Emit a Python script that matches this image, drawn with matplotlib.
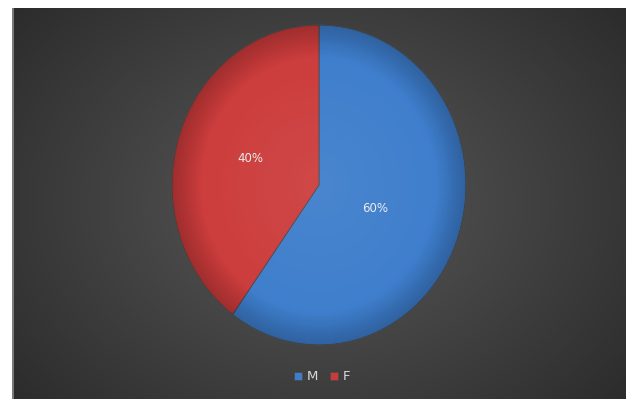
import numpy as np
import matplotlib
matplotlib.use("Agg")
import matplotlib.pyplot as plt

categories = ["M", "F"]
values = [60, 40]
colors = ["#3d7dcc", "#cc3b3b"]

W, H = 628, 399
fig = plt.figure(figsize=(W / 100, H / 100), dpi=100)
fig.patch.set_facecolor("white")

# background panel with radial gradient
bx0, bx1, by0, by1 = 12, 626, 8, 399
bg = fig.add_axes([bx0 / W, 1 - by1 / H, (bx1 - bx0) / W, (by1 - by0) / H])
yy, xx = np.mgrid[0:1:300j, 0:1:400j]
r = np.sqrt(((xx - 0.5) / 0.62) ** 2 + ((yy - 0.5) / 0.75) ** 2)
g = np.clip(0.35 - 0.17 * r, 0.16, 0.35)
bg.imshow(np.dstack([g, g, g]), aspect="auto", extent=(0, 1, 0, 1))
bg.axvline(0.001, color="#8a8a8a", lw=1.2)
bg.set_axis_off()

# pie axes (ellipse: stretched in y)
px0, px1, py0, py1 = 172, 466, 25, 345
ax = fig.add_axes([px0 / W, 1 - py1 / H, (px1 - px0) / W, (py1 - py0) / H])
wedges, texts, autotexts = ax.pie(
    values, colors=colors, startangle=90, counterclock=False,
    autopct="%1.0f%%", pctdistance=0.5,
    textprops=dict(color="#ececec", fontsize=8.5),
    wedgeprops=dict(linewidth=0.6, edgecolor="#4a4a4a"),
)
ax.set_aspect("auto")
ax.set_xlim(-1, 1)
ax.set_ylim(-1, 1)
ax.set_axis_off()

# label placement like the reference
autotexts[0].set_position((0.38, -0.15))
autotexts[1].set_position((-0.47, 0.165))

# soft shading on wedges
yy2, xx2 = np.mgrid[1:-1:300j, -1:1:300j]
rr = np.sqrt(xx2 ** 2 + yy2 ** 2)
shade = np.clip((rr - 0.8) / 0.2, 0, 1)
for w in wedges:
    rgba = np.zeros((300, 300, 4))
    rgba[..., 3] = 0.22 * shade
    im = ax.imshow(rgba, extent=(-1, 1, -1, 1), aspect="auto", zorder=w.get_zorder() + 0.1)
    im.set_clip_path(w)
    hl = np.ones((300, 300, 4))
    hl[..., 3] = 0.07 * np.clip(1 - rr, 0, 1)
    im2 = ax.imshow(hl, extent=(-1, 1, -1, 1), aspect="auto", zorder=w.get_zorder() + 0.1)
    im2.set_clip_path(w)
for t in autotexts:
    t.set_zorder(10)

# legend
leg = fig.legend(
    wedges, categories, loc="center", bbox_to_anchor=(322 / W, 1 - 377 / H),
    ncol=2, frameon=False, handlelength=0.6, handleheight=0.6,
    handletextpad=0.35, columnspacing=0.9, fontsize=9.5,
)
for t in leg.get_texts():
    t.set_color("#d8d8d8")

fig.savefig("out.png", dpi=100, facecolor="white")
